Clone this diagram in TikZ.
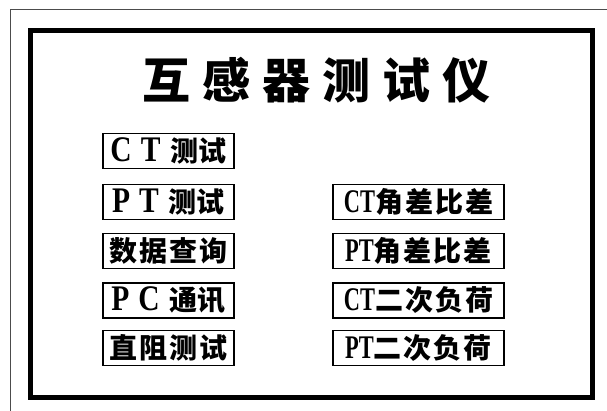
\documentclass[tikz,border=0pt]{standalone}
\usepackage{fontspec}
\setmainfont{Liberation Serif}
\newfontfamily\cjk{Noto Sans CJK SC}
\newfontfamily\latlargo{Liberation Serif}[FakeStretch=0.82]
\newfontfamily\latestreito{Liberation Serif}[FakeStretch=0.68]
\definecolor{cor_borda}{gray}{0.3}

\newcommand{\lat}[1]{{\latlargo\bfseries\fontsize{36}{36}\selectfont #1}}
\newcommand{\ch}[1]{{\cjk\bfseries\fontsize{28}{28}\selectfont #1}}
\newcommand{\ct}[1]{{\latestreito\bfseries\fontsize{33}{33}\selectfont #1}}

\begin{document}
\begin{tikzpicture}[x=1pt,y=-1pt]
        \tikzset{
            botao/.style={
                draw,
                line width=1.6pt,
                minimum width=131pt,
                minimum height=35pt,
                inner sep=0pt
            },
            botaolargo/.style={
                botao,
                minimum width=171pt
            }
        }
        \useasboundingbox (0,0) rectangle (607,411);

        \draw[cor_borda, line width=1pt] (10,10) rectangle (620,420);
        \draw[black, line width=5pt] (30.5,31) rectangle (592.5,397);

        \node[font=\cjk\bfseries\fontsize{48}{48}\selectfont] (titulo) at (316,80)
            {互\hspace{12pt}感\hspace{12pt}器\hspace{12pt}测\hspace{12pt}试\hspace{12pt}仪};

        % coluna da esquerda
        \node[botao] (ct) at (168.5,151) {\lat{C}\hspace{9pt}\lat{T}\hspace{10pt}\ch{测试}};
        \node[botao] (pt) at (168.5,202) {\lat{P}\hspace{9pt}\lat{T}\hspace{10pt}\ch{测试}};
        \node[botao] (dados) at (168.5,251) {\ch{数\hspace{2pt}据\hspace{2pt}查\hspace{2pt}询}};
        \node[botao] (pc) at (168.5,300.5) {\lat{P}\hspace{9pt}\lat{C}\hspace{10pt}\ch{通讯}};
        \node[botao] (dc) at (168.5,348) {\ch{直\hspace{2pt}阻\hspace{2pt}测\hspace{2pt}试}};

        % coluna da direita
        \node[botaolargo] (ctang) at (418.5,202) {\ct{CT}\ch{角\hspace{2pt}差\hspace{2pt}比\hspace{2pt}差}};
        \node[botaolargo] (ptang) at (418.5,251) {\ct{PT}\ch{角\hspace{2pt}差\hspace{2pt}比\hspace{2pt}差}};
        \node[botaolargo] (ctcarga) at (418.5,300.5) {\ct{CT}\ch{二\hspace{2pt}次\hspace{2pt}负\hspace{2pt}荷}};
        \node[botaolargo] (ptcarga) at (418.5,348) {\ct{PT}\ch{二\hspace{2pt}次\hspace{2pt}负\hspace{2pt}荷}};

\end{tikzpicture}
\end{document}
